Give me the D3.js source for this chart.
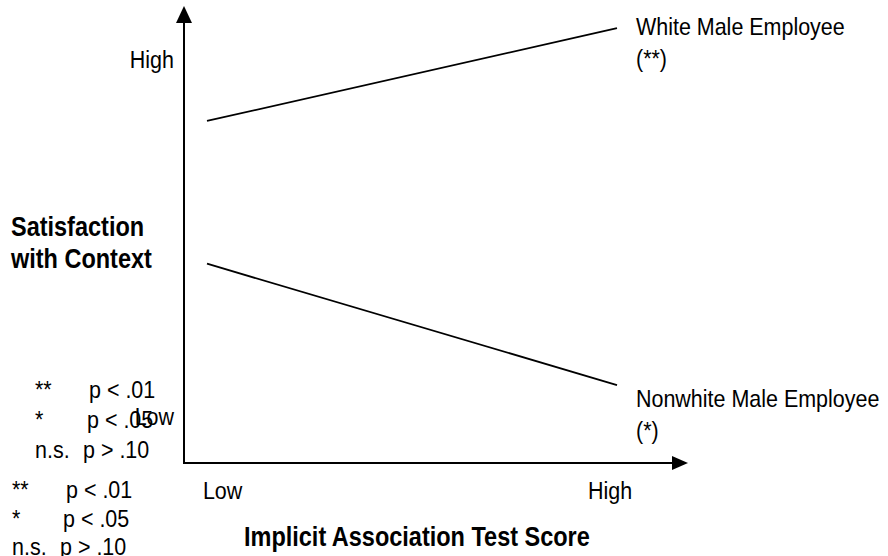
<!DOCTYPE html>
<html>
<head>
<meta charset="utf-8">
<script src="https://cdn.jsdelivr.net/npm/d3@7.9.0/dist/d3.min.js"></script>
<style>
  html, body { margin: 0; padding: 0; background: #fff; }
  svg text { font-family: "Liberation Sans", Arial, sans-serif; fill: #000; }
</style>
</head>
<body>
<svg id="chart" width="888" height="556"></svg>
<script>
// values (y on an arbitrary 0-100 satisfaction scale)
const xLevels = ["Low", "High"];
const xTickAt = [0.038, 0.983];
const whiteValues = [75.5, 96];
const nonwhiteValues = [44, 17.2];
const seriesNames = ["White Male Employee", "Nonwhite Male Employee"];
const seriesSig = ["(**)", "(*)"];
const yLevels = ["Low", "High"];
const yTickAt = [8.4, 87.2];
const legendMarks = ["**", "*", "n.s."];
const legendTests = ["p < .01", "p < .05", "p > .10"];

const svg = d3.select("#chart");

const axisX0 = 184, axisY0 = 463;
const x = d3.scaleLinear().domain([0, 1]).range([207, 617]);
const y = d3.scaleLinear().domain([0, 100]).range([axisY0, 10]);

// the original text is a bit tall and narrow, so squeeze it sideways
function label(str, px, py, opts = {}) {
    const bold = opts.bold || false;
    return svg.append("text")
        .attr("transform", `translate(${px},${py}) scale(${bold ? 0.87 : 0.88},1)`)
        .attr("text-anchor", opts.anchor || "start")
        .attr("font-size", bold ? 27 : 24.4)
        .attr("font-weight", bold ? "bold" : "normal")
        .text(str);
}

// axes with arrow heads
svg.append("line")
    .attr("x1", axisX0).attr("y1", axisY0 + 1)
    .attr("x2", axisX0).attr("y2", 20)
    .attr("stroke", "#000").attr("stroke-width", 2);
svg.append("path")
    .attr("d", `M${axisX0},6 L${axisX0 - 8},23 L${axisX0 + 8},23 Z`)
    .attr("fill", "#000");

svg.append("line")
    .attr("x1", axisX0 - 1).attr("y1", axisY0)
    .attr("x2", 676).attr("y2", axisY0)
    .attr("stroke", "#000").attr("stroke-width", 2);
svg.append("path")
    .attr("d", `M688,${axisY0} L672,${axisY0 - 7} L672,${axisY0 + 7} Z`)
    .attr("fill", "#000");

// lines
const series = [whiteValues, nonwhiteValues];
const line = d3.line()
    .x((d, i) => x(i))
    .y(d => y(d));

svg.selectAll("path.series")
    .data(series)
    .enter()
    .append("path")
    .attr("class", "series")
    .attr("d", line)
    .attr("fill", "none")
    .attr("stroke", "#000")
    .attr("stroke-width", 1.8);

// series labels
const labelDy = [7, 22];
series.forEach((s, i) => {
    const yEnd = y(s[1]) + labelDy[i];
    label(seriesNames[i], x(1) + 19, yEnd);
    label(seriesSig[i], x(1) + 19, yEnd + 32);
});

// tick labels
xLevels.forEach((d, i) => label(d, x(xTickAt[i]), 499, { anchor: "middle" }));
yLevels.forEach((d, i) => label(d, 174, y(yTickAt[i]), { anchor: "end" }));

// axis titles
label("Implicit Association Test Score", 244, 546, { bold: true });
label("Satisfaction", 11, 236, { bold: true });
label("with Context", 11, 268, { bold: true });

// significance keys (appears twice in the original)
const keys = [
    { x: 35, pX: [89, 87, 83], y0: 398, step: 30 },
    { x: 12, pX: [66, 63, 60], y0: 498, step: 28.5 }
];
keys.forEach(k => {
    legendMarks.forEach((m, i) => {
        label(m, k.x, k.y0 + i * k.step);
        label(legendTests[i], k.pX[i], k.y0 + i * k.step);
    });
});
</script>
</body>
</html>
